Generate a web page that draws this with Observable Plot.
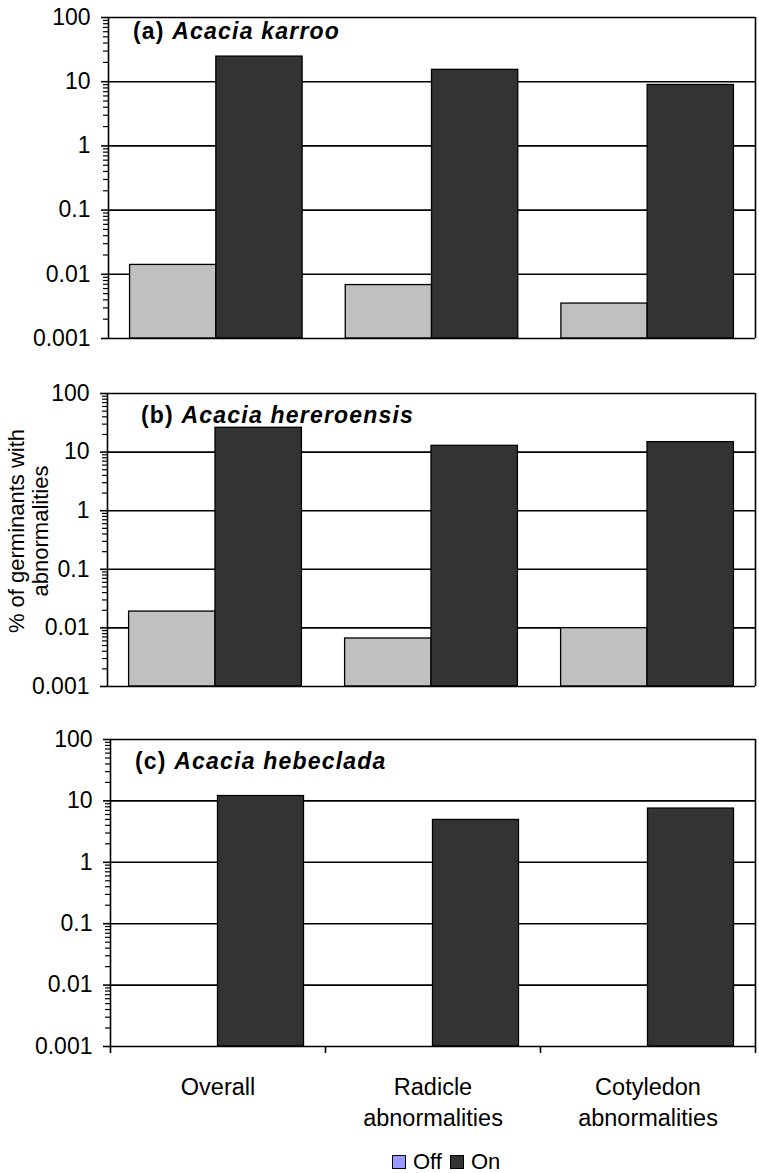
<!DOCTYPE html>
<html>
<head>
<meta charset="utf-8">
<script src="https://cdn.jsdelivr.net/npm/d3@7"></script>
<script src="https://cdn.jsdelivr.net/npm/@observablehq/plot@0.6"></script>
<style>
  html, body { margin: 0; padding: 0; background: #fff; }
  body { font-family: "Liberation Sans", Arial, sans-serif; color: #000; }
  #page { position: relative; width: 759px; height: 1173px; overflow: hidden; }
  .panel { position: absolute; left: 0; }
  .title { position: absolute; font-weight: bold; font-size: 23px; line-height: 1; letter-spacing: 1.2px; white-space: nowrap; }
  .title i { font-style: italic; }
  #ylabel { position: absolute; width: 260px; height: 48px; left: -101px; top: 507px; font-size: 22px; line-height: 24px; text-align: center; transform: rotate(-90deg); white-space: nowrap; }
  #legend { position: absolute; left: 392px; top: 1149px; display: flex; align-items: center; font-size: 22px; line-height: 26px; }
  #legend .sw { width: 12px; height: 12px; border: 1px solid #000; display: inline-block; margin-right: 7px; }
</style>
</head>
<body>
<div id="page"></div>
<script>
// ---- data ----
const categories = ["Overall", "Radicle abnormalities", "Cotyledon abnormalities"];
const categoryLabels = ["Overall", "Radicle\nabnormalities", "Cotyledon\nabnormalities"];
const series = ["Off", "On"];
const panelTitles = ["(a) ", "(b) ", "(c) "];
const species = ["Acacia karroo", "Acacia hereroensis", "Acacia hebeclada"];
const karrooOff = [0.014, 0.0068, 0.0035];
const karrooOn = [24.6, 15.3, 8.9];
const hereroensisOff = [0.019, 0.0066, 0.0099];
const hereroensisOn = [26, 12.8, 14.8];
const hebecladaOff = [0, 0, 0];
const hebecladaOn = [12, 4.9, 7.5];
const yTicks = [0.001, 0.01, 0.1, 1, 10, 100];
const yTickLabels = ["0.001", "0.01", "0.1", "1", "10", "100"];
const yLabel = "% of germinants with\nabnormalities";

// ---- styles ----
const barFill = {Off: "#c0c0c0", On: "#333333"};
const legendFill = {Off: "#9999ff", On: "#333333"};
const W = 759;
const FONT = '"Liberation Sans", Arial, sans-serif';
const minorTicks = yTicks.slice(0, -1).flatMap(d => d3.range(2, 10).map(k => d * k));
const groupPad = 0.1, barW = 0.4;

function makePanel({off, on, top, frameH, marginLeft, marginBottom, xAxis}) {
  const marginTop = 10;
  const rows = categories.flatMap((c, i) => series.map((s, si) => ({
    category: c, i, si, series: s, value: (s === "Off" ? off : on)[i]
  }))).filter(d => d.value > 0);
  const marks = [
    Plot.ruleY(yTicks.slice(1, -1), {stroke: "#000", strokeWidth: 1.6}),
    Plot.rectY(rows, {
      x1: d => d.i + groupPad + d.si * barW,
      x2: d => d.i + groupPad + (d.si + 1) * barW,
      y1: yTicks[0], y2: "value",
      fill: d => barFill[d.series], stroke: "#000", strokeWidth: 1.3
    }),
    Plot.ruleY([yTicks[0], yTicks[yTicks.length - 1]], {stroke: "#000", strokeWidth: 1.6}),
    Plot.ruleX([0, categories.length], {stroke: "#000", strokeWidth: 1.6}),
    Plot.axisY({ticks: minorTicks, tickFormat: () => "", tickSize: 5, strokeWidth: 1.2}),
    Plot.axisY({ticks: yTicks, tickFormat: d => yTickLabels[yTicks.indexOf(d)], tickSize: 7, tickPadding: 11, fontSize: 23, strokeWidth: 1.6})
  ];
  if (xAxis) {
    marks.push(Plot.axisX({ticks: d3.range(categories.length + 1), tickFormat: () => "", tickSize: 7, strokeWidth: 1.6}));
    marks.push(Plot.text(categoryLabels, {
      x: (d, i) => i + 0.5, text: d => d, frameAnchor: "bottom", lineAnchor: "top",
      dy: 26, fontSize: 23.5, lineHeight: 1.32, fill: "#000"
    }));
  }
  const height = marginTop + frameH + marginBottom;
  const svg = Plot.plot({
    width: W, height,
    marginLeft, marginRight: 4, marginTop, marginBottom,
    x: {domain: [0, categories.length], axis: null, label: null},
    y: {type: "log", domain: [yTicks[0], yTicks[yTicks.length - 1]], axis: null, label: null},
    style: {fontFamily: FONT, color: "#000", background: "transparent", overflow: "visible"},
    marks
  });
  const wrap = document.createElement("div");
  wrap.className = "panel";
  wrap.style.top = (top - marginTop) + "px";
  wrap.appendChild(svg);
  return wrap;
}

const page = document.getElementById("page");
const panels = [
  {off: karrooOff, on: karrooOn, top: 17, frameH: 321, marginLeft: 108, marginBottom: 6, titleX: 133, titleY: 20},
  {off: hereroensisOff, on: hereroensisOn, top: 393, frameH: 293, marginLeft: 107, marginBottom: 6, titleX: 141, titleY: 404},
  {off: hebecladaOff, on: hebecladaOn, top: 739, frameH: 307, marginLeft: 110, marginBottom: 90, xAxis: true, titleX: 135, titleY: 750}
];
panels.forEach((p, k) => {
  page.appendChild(makePanel(p));
  const t = document.createElement("div");
  t.className = "title";
  t.style.left = p.titleX + "px";
  t.style.top = p.titleY + "px";
  t.appendChild(document.createTextNode(panelTitles[k]));
  const it = document.createElement("i");
  it.textContent = species[k];
  t.appendChild(it);
  page.appendChild(t);
});

// y-axis label
const yl = document.createElement("div");
yl.id = "ylabel";
yl.innerHTML = yLabel.split("\n").map(s => s.replace(/&/g, "&amp;")).join("<br>");
page.appendChild(yl);

// legend
const lg = document.createElement("div");
lg.id = "legend";
series.forEach((s, i) => {
  const sw = document.createElement("span");
  sw.className = "sw";
  sw.style.background = legendFill[s];
  const tx = document.createElement("span");
  tx.textContent = s;
  tx.style.marginRight = i < series.length - 1 ? "8px" : "0";
  lg.appendChild(sw);
  lg.appendChild(tx);
});
page.appendChild(lg);
</script>
</body>
</html>
